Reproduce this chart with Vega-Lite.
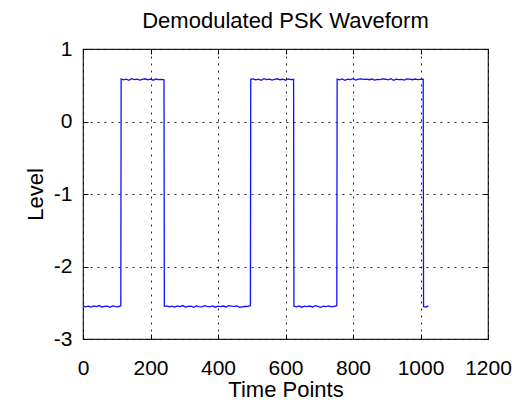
{
  "$schema": "https://vega.github.io/schema/vega-lite/v6.json",
  "autosize": "none",
  "width": 405,
  "height": 290,
  "padding": {"left": 83, "top": 49, "right": 41, "bottom": 61},
  "background": "white",
  "title": {"text": "Demodulated PSK Waveform", "fontSize": 22, "font": "Liberation Sans", "fontWeight": "normal", "color": "black", "anchor": "middle", "frame": "group", "baseline": "alphabetic", "offset": 21, "dy": 33},
  "data": {"values": [
    {"t":0,"v":-2.543},{"t":8,"v":-2.556},{"t":16,"v":-2.548},{"t":24,"v":-2.561},{"t":32,"v":-2.545},{"t":40,"v":-2.553},{"t":48,"v":-2.539},{"t":56,"v":-2.558},{"t":64,"v":-2.55},{"t":72,"v":-2.547},{"t":80,"v":-2.562},{"t":88,"v":-2.544},{"t":96,"v":-2.552},{"t":104,"v":-2.557},{"t":112,"v":-2.541},
    {"t":113,"v":0.587},{"t":120,"v":0.574},{"t":128,"v":0.583},{"t":136,"v":0.569},{"t":144,"v":0.591},{"t":152,"v":0.578},{"t":160,"v":0.585},{"t":168,"v":0.572},{"t":176,"v":0.581},{"t":184,"v":0.589},{"t":192,"v":0.576},{"t":200,"v":0.584},{"t":208,"v":0.57},{"t":216,"v":0.586},{"t":224,"v":0.579},{"t":232,"v":0.582},{"t":240,"v":0.575},
    {"t":241,"v":-2.549},{"t":248,"v":-2.543},{"t":256,"v":-2.556},{"t":264,"v":-2.548},{"t":272,"v":-2.561},{"t":280,"v":-2.545},{"t":288,"v":-2.553},{"t":296,"v":-2.539},{"t":304,"v":-2.558},{"t":312,"v":-2.55},{"t":320,"v":-2.547},{"t":328,"v":-2.562},{"t":336,"v":-2.544},{"t":344,"v":-2.552},{"t":352,"v":-2.557},{"t":360,"v":-2.541},{"t":368,"v":-2.549},{"t":376,"v":-2.556},{"t":384,"v":-2.543},{"t":392,"v":-2.561},{"t":400,"v":-2.548},{"t":408,"v":-2.553},{"t":416,"v":-2.545},{"t":424,"v":-2.558},{"t":432,"v":-2.539},{"t":440,"v":-2.547},{"t":448,"v":-2.55},{"t":456,"v":-2.544},{"t":464,"v":-2.562},{"t":472,"v":-2.557},{"t":480,"v":-2.552},{"t":488,"v":-2.549},{"t":496,"v":-2.541},
    {"t":497,"v":0.582},{"t":504,"v":0.587},{"t":512,"v":0.574},{"t":520,"v":0.583},{"t":528,"v":0.569},{"t":536,"v":0.591},{"t":544,"v":0.578},{"t":552,"v":0.585},{"t":560,"v":0.572},{"t":568,"v":0.581},{"t":576,"v":0.589},{"t":584,"v":0.576},{"t":592,"v":0.584},{"t":600,"v":0.57},{"t":608,"v":0.586},{"t":616,"v":0.579},{"t":624,"v":0.583},
    {"t":625,"v":-2.547},{"t":632,"v":-2.556},{"t":640,"v":-2.543},{"t":648,"v":-2.561},{"t":656,"v":-2.548},{"t":664,"v":-2.553},{"t":672,"v":-2.545},{"t":680,"v":-2.558},{"t":688,"v":-2.539},{"t":696,"v":-2.55},{"t":704,"v":-2.562},{"t":712,"v":-2.547},{"t":720,"v":-2.552},{"t":728,"v":-2.544},{"t":736,"v":-2.557},{"t":744,"v":-2.549},{"t":752,"v":-2.541},
    {"t":753,"v":0.584},{"t":760,"v":0.574},{"t":768,"v":0.587},{"t":776,"v":0.569},{"t":784,"v":0.583},{"t":792,"v":0.578},{"t":800,"v":0.591},{"t":808,"v":0.572},{"t":816,"v":0.585},{"t":824,"v":0.589},{"t":832,"v":0.581},{"t":840,"v":0.584},{"t":848,"v":0.576},{"t":856,"v":0.586},{"t":864,"v":0.57},{"t":872,"v":0.582},{"t":880,"v":0.579},{"t":888,"v":0.587},{"t":896,"v":0.583},{"t":904,"v":0.574},{"t":912,"v":0.591},{"t":920,"v":0.569},{"t":928,"v":0.585},{"t":936,"v":0.578},{"t":944,"v":0.581},{"t":952,"v":0.572},{"t":960,"v":0.589},{"t":968,"v":0.584},{"t":976,"v":0.576},{"t":984,"v":0.586},{"t":992,"v":0.579},{"t":1000,"v":0.582},{"t":1008,"v":0.585},
    {"t":1009,"v":-2.552},{"t":1016,"v":-2.558},{"t":1023,"v":-2.546}
  ]},
  "layer": [
    {
      "mark": {"type": "line", "color": "#1010ff", "strokeWidth": 1.3, "clip": true},
      "encoding": {
        "x": {"field": "t", "type": "quantitative",
              "scale": {"domain": [0, 1200], "nice": false, "zero": false},
              "axis": {"orient": "bottom", "title": "Time Points", "values": [0, 200, 400, 600, 800, 1000, 1200], "grid": true, "labelPadding": 23, "titlePadding": 1}},
        "y": {"field": "v", "type": "quantitative",
              "scale": {"domain": [-3, 1], "nice": false, "zero": false},
              "axis": {"orient": "left", "title": "Level", "values": [-3, -2, -1, 0, 1], "grid": true, "labelPadding": 16, "titlePadding": 6}}
      }
    },
    {
      "mark": {"type": "line", "opacity": 0},
      "encoding": {
        "x": {"field": "t", "type": "quantitative",
              "scale": {"domain": [0, 1200], "nice": false, "zero": false},
              "axis": {"orient": "top", "title": null, "labels": false, "grid": false, "values": [0, 200, 400, 600, 800, 1000, 1200]}},
        "y": {"field": "v", "type": "quantitative",
              "scale": {"domain": [-3, 1], "nice": false, "zero": false},
              "axis": {"orient": "right", "title": null, "labels": false, "grid": false, "values": [-3, -2, -1, 0, 1]}}
      }
    }
  ],
  "resolve": {"axis": {"x": "independent", "y": "independent"}},
  "config": {
    "view": {"stroke": "#222222", "strokeWidth": 1.2},
    "axis": {
      "domain": false,
      "gridColor": "#000000",
      "gridDash": [2, 5],
      "gridOpacity": 0.85,
      "gridWidth": 1,
      "ticks": true,
      "tickSize": -5,
      "tickColor": "#000000",
      "tickWidth": 1,
      "labelFont": "Liberation Sans",
      "labelFontSize": 21,
      "labelColor": "#000000",
      "labelOverlap": false,
      "labelFlush": false,
      "labelExpr": "datum.value + ''",
      "titleFont": "Liberation Sans",
      "titleFontSize": 22,
      "titleFontWeight": "normal",
      "titleColor": "#000000"
    }
  }
}
